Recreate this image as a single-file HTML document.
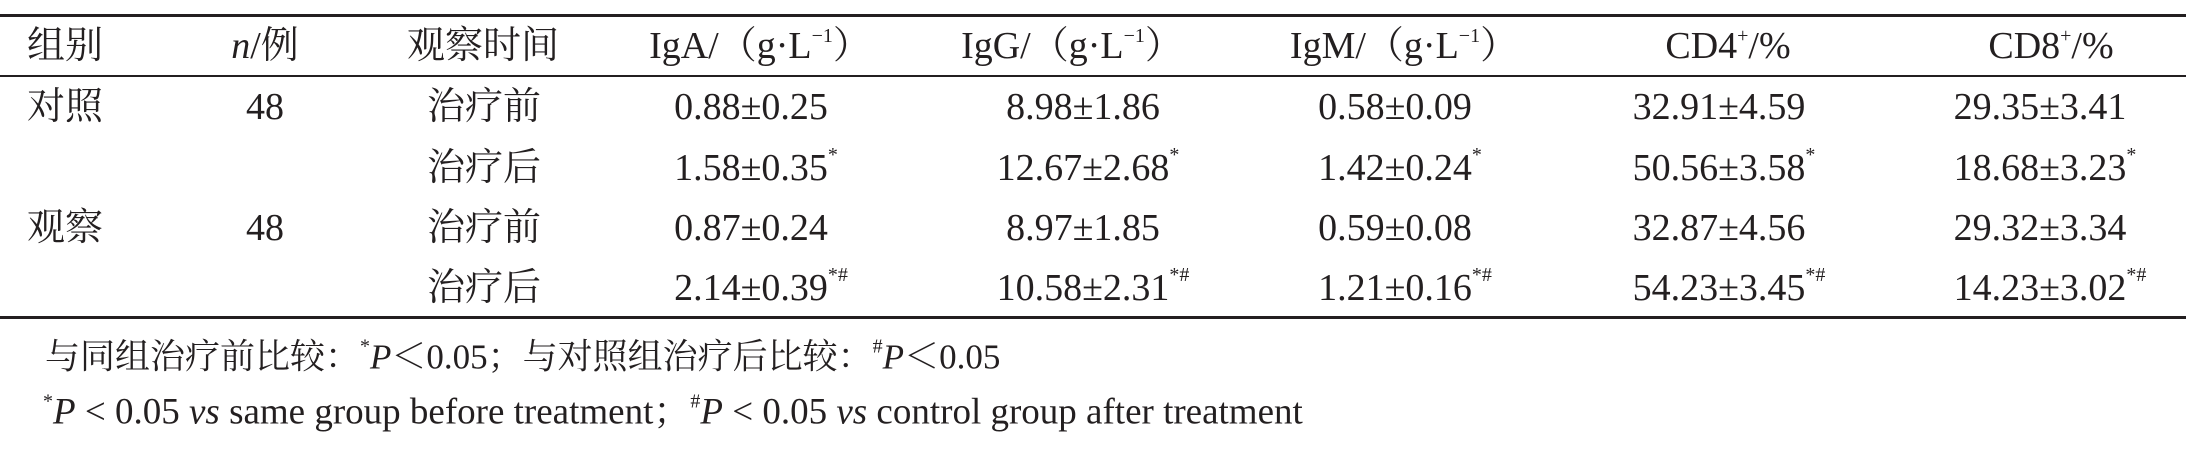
<!DOCTYPE html>
<html><head><meta charset="utf-8">
<style>
html,body{margin:0;padding:0;background:#fff;}
#t{position:relative;width:2186px;height:459px;overflow:hidden;font-family:"Liberation Serif","Noto Serif CJK SC",serif;font-size:38px;color:#231f20;}
.r{position:absolute;left:0;width:2186px;background:#231f20;}
.c{position:absolute;white-space:nowrap;line-height:1;transform:translate(-50%,-50%);}
.l{position:absolute;white-space:nowrap;line-height:1;transform:translateY(-50%);}
.s{position:absolute;left:100%;top:-4px;font-size:20px;}
sup{font-size:20px;vertical-align:0;position:relative;top:-16px;}
i{font-style:italic;}
</style></head><body>
<div id="t">
<div class="r" style="top:14px;height:3px"></div>
<div class="r" style="top:75px;height:2px"></div>
<div class="r" style="top:316px;height:3px"></div>

<div class="l" style="left:27px;top:46px">组别</div>
<div class="c" style="left:265px;top:46px"><i>n</i>/例</div>
<div class="c" style="left:483px;top:46px">观察时间</div>
<div class="c" style="left:760px;top:46px">IgA/（g·L<sup>−1</sup>）</div>
<div class="c" style="left:1072px;top:46px">IgG/（g·L<sup>−1</sup>）</div>
<div class="c" style="left:1404px;top:46px">IgM/（g·L<sup>−1</sup>）</div>
<div class="c" style="left:1728px;top:46px">CD4<sup>+</sup>/%</div>
<div class="c" style="left:2051px;top:46px">CD8<sup>+</sup>/%</div>

<div class="l" style="left:27px;top:107px">对照</div>
<div class="c" style="left:265px;top:107px">48</div>
<div class="l" style="left:27px;top:228px">观察</div>
<div class="c" style="left:265px;top:228px">48</div>

<div class="c" style="left:484px;top:107px">治疗前</div>
<div class="c" style="left:484px;top:168px">治疗后</div>
<div class="c" style="left:484px;top:228px">治疗前</div>
<div class="c" style="left:484px;top:288px">治疗后</div>

<div class="c" style="left:751px;top:107px">0.88±0.25</div>
<div class="c" style="left:751px;top:168px">1.58±0.35<span class="s">*</span></div>
<div class="c" style="left:751px;top:228px">0.87±0.24</div>
<div class="c" style="left:751px;top:288px">2.14±0.39<span class="s">*#</span></div>

<div class="c" style="left:1083px;top:107px">8.98±1.86</div>
<div class="c" style="left:1083px;top:168px">12.67±2.68<span class="s">*</span></div>
<div class="c" style="left:1083px;top:228px">8.97±1.85</div>
<div class="c" style="left:1083px;top:288px">10.58±2.31<span class="s">*#</span></div>

<div class="c" style="left:1395px;top:107px">0.58±0.09</div>
<div class="c" style="left:1395px;top:168px">1.42±0.24<span class="s">*</span></div>
<div class="c" style="left:1395px;top:228px">0.59±0.08</div>
<div class="c" style="left:1395px;top:288px">1.21±0.16<span class="s">*#</span></div>

<div class="c" style="left:1719px;top:107px">32.91±4.59</div>
<div class="c" style="left:1719px;top:168px">50.56±3.58<span class="s">*</span></div>
<div class="c" style="left:1719px;top:228px">32.87±4.56</div>
<div class="c" style="left:1719px;top:288px">54.23±3.45<span class="s">*#</span></div>

<div class="c" style="left:2040px;top:107px">29.35±3.41</div>
<div class="c" style="left:2040px;top:168px">18.68±3.23<span class="s">*</span></div>
<div class="c" style="left:2040px;top:228px">29.32±3.34</div>
<div class="c" style="left:2040px;top:288px">14.23±3.02<span class="s">*#</span></div>

<div class="l" style="left:45px;top:357px;font-size:35px">与同组治疗前比较：<sup>*</sup><i>P</i>＜0.05；与对照组治疗后比较：<sup>#</sup><i>P</i>＜0.05</div>
<div class="l" style="left:43px;top:412px;font-size:37px"><sup>*</sup><i>P</i> &lt; 0.05 <i>vs</i> same group before treatment；<sup>#</sup><i>P</i> &lt; 0.05 <i>vs</i> control group after treatment</div>
</div>
</body></html>
